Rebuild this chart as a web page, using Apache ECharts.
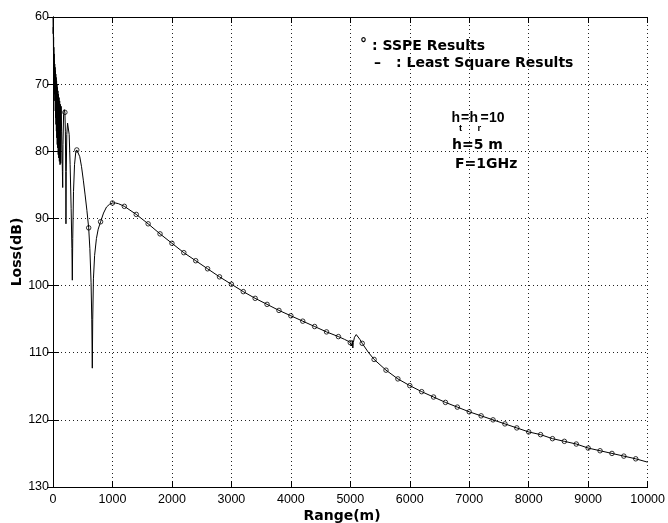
<!DOCTYPE html>
<html>
<head>
<meta charset="utf-8">
<script src="https://cdn.jsdelivr.net/npm/echarts@6/dist/echarts.min.js"></script>
<style>
  html, body { margin: 0; padding: 0; background: #fff; }
  #chart { width: 668px; height: 523px; }
</style>
</head>
<body>
<div id="chart"></div>
<script>
// Least square curve (range in m, loss in dB).
const lineRange = [
  0, 3, 5, 8, 10, 12, 14, 17, 19, 22, 24, 27, 29, 32, 35, 38, 41, 44, 47, 50,
  53, 57, 60, 64, 67, 71, 75, 79, 83, 88, 92, 97, 102, 107, 112, 118, 124, 130,
  137, 145, 152, 158, 163, 168, 178, 190, 200, 208, 214, 218, 223, 232,
  245, 258, 272, 288, 305, 318, 325, 332, 345, 362, 382, 400, 420, 450, 480, 510,
  540, 570, 600, 620, 640, 652, 661, 668, 680, 700, 730, 760, 800, 850, 900, 950,
  1000, 1050, 1100, 1200, 1400, 1600, 1800, 2000, 2200, 2400, 2600, 2800, 3000,
  3200, 3400, 3600, 3800, 4000, 4200, 4400, 4600, 4800, 4900, 4990, 5010, 5025,
  5035, 5042, 5050, 5070, 5100, 5130, 5160, 5200, 5300, 5400, 5600, 5800, 6000,
  6200, 6400, 6600, 6800, 7000, 7200, 7400, 7600, 7800, 8000, 8200, 8400, 8600,
  8800, 9000, 9200, 9400, 9600, 9800, 10000
];
const lineLoss = [
  60, 62.5, 61.5, 65, 63, 67, 64.5, 68.5, 65.5, 70, 66.5, 71.5, 67, 72.5, 67.5, 74, 68, 75, 68.5, 76,
  69, 77, 69.5, 78, 70, 79, 70.5, 79.5, 71, 80.5, 71.5, 81, 72, 81.5, 72.5, 82, 73, 81.8,
  73.3, 77, 80, 83, 85.4, 79, 74.5, 73.8, 74.2, 77, 83, 90.8, 83, 77.5,
  75.8, 75.7, 77.5, 82, 88.5, 94.5, 99.2, 93, 86, 82, 80.2, 79.8, 79.9, 80.8, 82.3, 84.3,
  86.5, 88.8, 91.4, 94.5, 99.5, 105, 112.3, 105, 99, 95.5, 93, 91.6, 90.5, 89.2, 88.3, 87.9,
  87.7, 87.7, 87.8, 88.2, 89.4, 90.8, 92.3, 93.7, 95.1, 96.3, 97.5, 98.7, 99.8,
  100.9, 101.9, 102.8, 103.7, 104.5, 105.3, 106.1, 106.9, 107.6, 108.0, 108.4, 108.6, 109.0,
  108.2, 109.3, 108.5, 107.7, 107.3, 107.5, 108.0, 108.6, 109.9, 111.0, 112.6, 113.9, 114.9,
  115.8, 116.6, 117.4, 118.1, 118.8, 119.4, 120.0, 120.6, 121.2, 121.8, 122.2, 122.8, 123.2,
  123.6, 124.2, 124.6, 125.0, 125.4, 125.8, 126.3
];

// SSPE results (circles).
const ssepRange = [
  200, 400, 600, 800, 1000, 1200, 1400, 1600, 1800, 2000, 2200, 2400, 2600, 2800,
  3000, 3200, 3400, 3600, 3800, 4000, 4200, 4400, 4600, 4800, 5000, 5200, 5400,
  5600, 5800, 6000, 6200, 6400, 6600, 6800, 7000, 7200, 7400, 7600, 7800, 8000,
  8200, 8400, 8600, 8800, 9000, 9200, 9400, 9600, 9800
];
const ssepLoss = [
  74.2, 79.8, 91.4, 90.5, 87.7, 88.2, 89.4, 90.8, 92.3, 93.7, 95.1, 96.3, 97.5, 98.7,
  99.8, 100.9, 101.9, 102.8, 103.7, 104.5, 105.3, 106.1, 106.9, 107.6, 108.5, 108.6, 111.0,
  112.6, 113.9, 114.9, 115.8, 116.6, 117.4, 118.1, 118.8, 119.4, 120.0, 120.6, 121.2, 121.8,
  122.2, 122.8, 123.2, 123.6, 124.2, 124.6, 125.0, 125.4, 125.8
];

const xTicks = { min: 0, max: 10000, interval: 1000 };
const yTicks = { min: 60, max: 130, interval: 10 };

const tickFont = "'Liberation Sans', Arial, sans-serif";
const boldFont = "'DejaVu Sans', sans-serif";
const narrowBold = "'Liberation Sans', Arial, sans-serif";

let zip = (xs, ys) => xs.map((x, i) => [x, ys[i]]);

let boxAxis = (extra) => Object.assign({
  type: "value",
  axisLine: { show: true, lineStyle: { color: "#000", width: 1 } },
  axisTick: { show: true, inside: true, length: 6, lineStyle: { color: "#000" } },
  axisLabel: { show: false },
  splitLine: { show: false }
}, extra);

// Bold text placed in pixels; align/rotation are optional.
let label = (text, x, y, size, opts) => {
  opts = opts || {};
  return {
    type: "text",
    x: x,
    y: y,
    rotation: opts.rotation || 0,
    style: {
      text: text,
      fontFamily: opts.font || boldFont,
      fontWeight: "bold",
      fontSize: size,
      fill: "#000",
      textAlign: opts.align || "left",
      textVerticalAlign: "middle"
    }
  };
};

const chart = echarts.init(document.getElementById("chart"));

chart.setOption({
  animation: false,
  backgroundColor: "#fff",
  grid: { left: 53, right: 20, top: 17, bottom: 36 },
  xAxis: [
    {
      type: "value",
      min: xTicks.min,
      max: xTicks.max,
      interval: xTicks.interval,
      axisLine: { show: true, lineStyle: { color: "#000", width: 1 } },
      axisTick: { show: true, inside: true, length: 6, lineStyle: { color: "#000" } },
      axisLabel: { color: "#000", fontFamily: tickFont, fontSize: 12.5, margin: 6, formatter: (v) => String(v) },
      splitLine: { show: true, lineStyle: { color: "#222", width: 1, type: [1, 3] } }
    },
    boxAxis({ position: "top", min: xTicks.min, max: xTicks.max, interval: xTicks.interval })
  ],
  yAxis: [
    {
      type: "value",
      inverse: true,
      min: yTicks.min,
      max: yTicks.max,
      interval: yTicks.interval,
      axisLine: { show: true, lineStyle: { color: "#000", width: 1 } },
      axisTick: { show: true, inside: true, length: 6, lineStyle: { color: "#000" } },
      axisLabel: { color: "#000", fontFamily: tickFont, fontSize: 12.5, margin: 4, formatter: (v) => String(v) },
      splitLine: { show: true, lineStyle: { color: "#222", width: 1, type: [1, 3] } }
    },
    boxAxis({ position: "right", inverse: true, min: yTicks.min, max: yTicks.max, interval: yTicks.interval })
  ],
  graphic: [
    label("Range(m)", 342, 516, 14, { align: "center" }),
    label("Loss(dB)", 17, 252, 14, { align: "center", rotation: Math.PI / 2 }),
    label("°", 360, 44, 14),
    label(": SSPE Results", 372, 46, 14),
    label("–", 374, 63, 14),
    label(": Least Square Results", 396, 63, 14),
    label("h", 451.5, 118, 14, { font: narrowBold }),
    label("t", 459, 128, 9.5, { font: narrowBold }),
    label("=", 461, 118, 14, { font: narrowBold }),
    label("h", 469.5, 118, 14, { font: narrowBold }),
    label("r", 477.5, 128, 9.5, { font: narrowBold }),
    label("=", 480.5, 118, 14, { font: narrowBold }),
    label("10", 489, 118, 14, { font: narrowBold }),
    label("h=5 m", 452, 145.5, 14),
    label("F=1GHz", 455, 164, 14)
  ],
  series: [
    {
      type: "line",
      data: zip(lineRange, lineLoss),
      showSymbol: false,
      lineStyle: { color: "#000", width: 1 },
      z: 3
    },
    {
      type: "scatter",
      data: zip(ssepRange, ssepLoss),
      symbol: "circle",
      symbolSize: 4.5,
      itemStyle: { color: "rgba(0,0,0,0)", borderColor: "#000", borderWidth: 1 },
      z: 4
    }
  ]
});
</script>
</body>
</html>
